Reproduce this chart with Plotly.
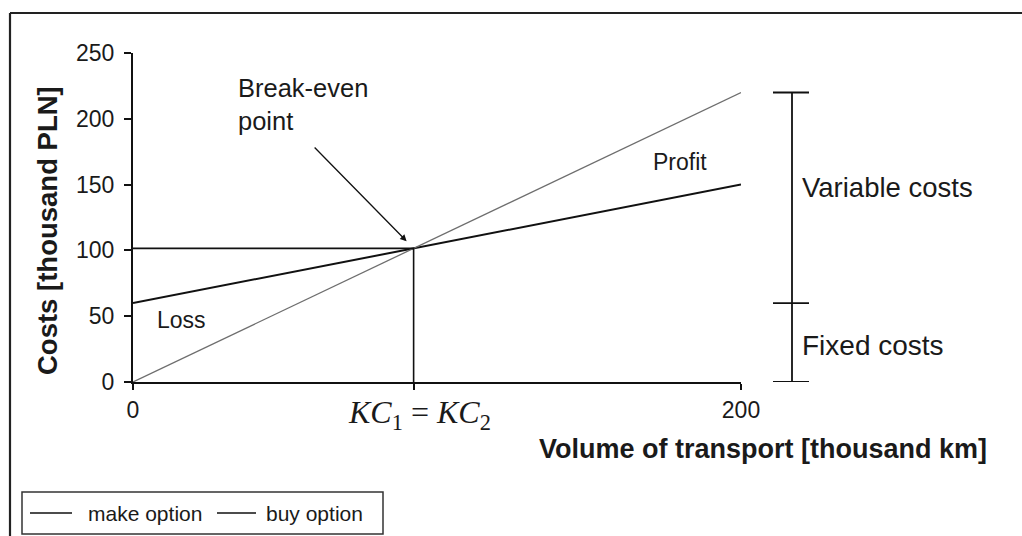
import plotly.graph_objects as go

# ---- data ----
volume = [0, 200]                 # thousand km
make_costs = [60, 150]            # thousand PLN
buy_costs = [0, 220]              # thousand PLN
y_ticks = [0, 50, 100, 150, 200, 250]
x_tick_labels = ["0", " ", "200"]
series_names = ["make option", "buy option"]

# break-even point from the two lines
sm = (make_costs[1] - make_costs[0]) / (volume[1] - volume[0])
sb = (buy_costs[1] - buy_costs[0]) / (volume[1] - volume[0])
x_be = (make_costs[0] - buy_costs[0]) / (sb - sm) + volume[0]
y_be = make_costs[0] + sm * (x_be - volume[0])

W, H = 1022, 536
L, R, T, B = 133, 281, 53, 154
PW, PH = W - L - R, H - T - B

def px(xp):
    return (xp - L) / PW

def py(yp):
    return (H - B - yp) / PH

TXT = "#1a1a1a"
SANS = "Liberation Sans, Arial, sans-serif"
MAKE_STYLE = dict(color="#111111", width=2)
BUY_STYLE = dict(color="#6e6e6e", width=1.3)

fig = go.Figure()
fig.add_trace(go.Scatter(x=volume, y=make_costs, mode="lines", name=series_names[0],
                         line=MAKE_STYLE, cliponaxis=False, showlegend=False))
fig.add_trace(go.Scatter(x=volume, y=buy_costs, mode="lines", name=series_names[1],
                         line=BUY_STYLE, cliponaxis=False, showlegend=False))
# guide lines to break-even point
fig.add_trace(go.Scatter(x=[volume[0], x_be, x_be], y=[y_be, y_be, 0], mode="lines",
                         showlegend=False, hoverinfo="skip",
                         line=dict(color="#111111", width=1.6), cliponaxis=False))

# bracket on the right
bx, bl, br = px(792), px(773), px(809)
for yv in [buy_costs[1], make_costs[0], 0]:
    fig.add_shape(type="line", xref="paper", yref="y", x0=bl, x1=br, y0=yv, y1=yv,
                  line=dict(color="#111111", width=1.8))
fig.add_shape(type="line", xref="paper", yref="y", x0=bx, x1=bx, y0=0, y1=buy_costs[1],
              line=dict(color="#111111", width=1.8))

# outer frame (top & left)
fig.add_shape(type="line", xref="paper", yref="paper", x0=px(10), x1=px(1030), y0=py(13), y1=py(13),
              line=dict(color="#222222", width=2.2))
fig.add_shape(type="line", xref="paper", yref="paper", x0=px(10), x1=px(10), y0=py(13), y1=py(545),
              line=dict(color="#222222", width=2.2))

# legend box (drawn manually)
fig.add_shape(type="rect", xref="paper", yref="paper", x0=px(22), x1=px(383), y0=py(492), y1=py(534),
              line=dict(color="#333333", width=1.5), fillcolor="white")
legend_items = [(series_names[0], MAKE_STYLE, 30, 72, 86),
                (series_names[1], BUY_STYLE, 217, 256, 264)]

ann = []
for name, style, x0, x1, xt in legend_items:
    fig.add_shape(type="line", xref="paper", yref="paper", x0=px(x0), x1=px(x1),
                  y0=py(513), y1=py(513), line=dict(color="#111111", width=1.5))
    ann.append(dict(text=name, xref="paper", yref="paper", x=px(xt), y=py(513),
                    xanchor="left", yanchor="middle", showarrow=False,
                    font=dict(family=SANS, size=21, color=TXT)))

ann.append(dict(text="Break-even<br>point", xref="paper", yref="paper", x=px(236), y=py(72),
                xanchor="left", yanchor="top", align="left", showarrow=False,
                font=dict(family=SANS, size=25.5, color=TXT)))
ann.append(dict(text=" ", x=x_be, y=y_be, xref="x", yref="y", ax=-102, ay=-104,
                showarrow=True, arrowhead=2, arrowsize=1, arrowwidth=1.3, arrowcolor="#111111",
                standoff=10))
ann.append(dict(text="Loss", x=16, y=47, xref="x", yref="y", showarrow=False,
                font=dict(family=SANS, size=23, color=TXT)))
ann.append(dict(text="Profit", x=180, y=167, xref="x", yref="y", showarrow=False,
                font=dict(family=SANS, size=23, color=TXT)))
ann.append(dict(text="Variable costs", xref="paper", yref="y", x=px(800), y=148,
                xanchor="left", yanchor="middle", showarrow=False,
                font=dict(family=SANS, size=27.5, color=TXT)))
ann.append(dict(text="Fixed costs", xref="paper", yref="y", x=px(800), y=28,
                xanchor="left", yanchor="middle", showarrow=False,
                font=dict(family=SANS, size=28, color=TXT)))
ann.append(dict(text="<i>KC</i><sub>1</sub> = <i>KC</i><sub>2</sub>", xref="x", yref="paper",
                x=x_be, y=py(414), xshift=6, xanchor="center", yanchor="middle", showarrow=False,
                font=dict(family="Liberation Serif, Times New Roman, serif", size=32, color=TXT)))
ann.append(dict(text="<b>Volume of transport [thousand km]</b>", xref="paper", yref="paper",
                x=px(989), y=py(449), xanchor="right", yanchor="middle", showarrow=False,
                font=dict(family=SANS, size=27, color=TXT)))
ann.append(dict(text="<b>Costs [thousand PLN]</b>", xref="paper", yref="paper",
                x=px(47), y=py(231), textangle=-90, xanchor="center", yanchor="middle",
                showarrow=False, font=dict(family=SANS, size=27.5, color=TXT)))

fig.update_layout(
    width=W, height=H,
    margin=dict(l=L, r=R, t=T, b=B, pad=0),
    paper_bgcolor="white", plot_bgcolor="white",
    annotations=ann,
    showlegend=False,
    xaxis=dict(range=[volume[0], volume[1]], tickvals=[volume[0], x_be, volume[1]],
               ticktext=x_tick_labels, showgrid=False, zeroline=False,
               showline=True, linecolor="#111111", linewidth=2,
               ticks="outside", ticklen=6, tickwidth=1.5, tickcolor="#111111",
               tickfont=dict(family=SANS, size=23, color=TXT), fixedrange=True),
    yaxis=dict(range=[y_ticks[0], y_ticks[-1]], tickvals=y_ticks, showgrid=False, zeroline=False,
               showline=True, linecolor="#111111", linewidth=2,
               ticks="outside", ticklen=7, tickwidth=1.5, tickcolor="#111111",
               tickfont=dict(family=SANS, size=23, color=TXT), ticklabelstandoff=5,
               fixedrange=True),
)

fig.write_html("out.html", config={"displayModeBar": False},
               post_script="document.body.style.margin='0';")
